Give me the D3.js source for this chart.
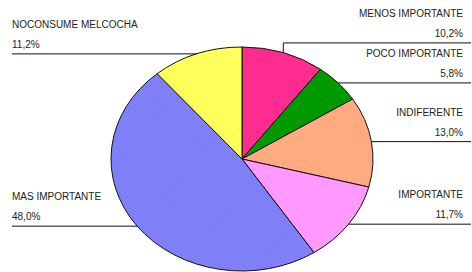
<!DOCTYPE html>
<html>
<head>
<meta charset="utf-8">
<script src="https://cdn.jsdelivr.net/npm/d3@7"></script>
<style>
  body { margin: 0; background: #fff; }
  text { font-family: "Liberation Sans", Arial, sans-serif; font-size: 10px; fill: #222; }
</style>
</head>
<body>
<svg id="chart" width="472" height="272"></svg>
<script>
var categories = ["MENOS IMPORTANTE", "POCO IMPORTANTE", "INDIFERENTE", "IMPORTANTE", "MAS IMPORTANTE", "NOCONSUME MELCOCHA"];
var values = [10.2, 5.8, 13.0, 11.7, 48.0, 11.2];
var valueLabels = ["10,2%", "5,8%", "13,0%", "11,7%", "48,0%", "11,2%"];
var colors = ["#ff2c90", "#009900", "#ffaa80", "#ff99ff", "#8282ff", "#ffff5c"];

var svg = d3.select("#chart");
var cx = 242, cy = 159, rx = 131, ry = 112;
var squash = ry / rx;

// hatched texture for the big blue slice
var defs = svg.append("defs");
var pat = defs.append("pattern")
    .attr("id", "hatch")
    .attr("patternUnits", "userSpaceOnUse")
    .attr("width", 3).attr("height", 3)
    .attr("patternTransform", "rotate(35)");
pat.append("rect").attr("width", 3).attr("height", 3).attr("fill", "#8484ff");
pat.append("rect").attr("width", 3).attr("height", 1).attr("fill", "#7676f2");

var data = categories.map(function(c, i) {
  return {name: c, value: values[i], label: valueLabels[i], color: colors[i]};
});

var pie = d3.pie().sort(null).value(function(d) { return d.value; });
var arcs = pie(data);
var arc = d3.arc().innerRadius(0).outerRadius(rx);

var g = svg.append("g")
    .attr("transform", "translate(" + cx + "," + cy + ") scale(1," + squash + ")");

g.selectAll("path")
  .data(arcs)
  .enter().append("path")
    .attr("d", arc)
    .attr("fill", function(d, i) { return i === 4 ? "url(#hatch)" : d.data.color; })
    .attr("stroke", "#111")
    .attr("stroke-width", 1)
    .attr("vector-effect", "non-scaling-stroke");

// anchor points on the ellipse edge at slice mid-angle
arcs.forEach(function(d) {
  var a = (d.startAngle + d.endAngle) / 2;
  d.ax = cx + Math.sin(a) * rx;
  d.ay = cy - Math.cos(a) * rx * squash;
  d.right = d.ax > cx;
  d.ly = d.ay;
});

// push right side labels apart (upward) when too close
var rightSide = arcs.filter(function(d) { return d.right; })
  .sort(function(a, b) { return b.ay - a.ay; });
for (var i = 1; i < rightSide.length; i++) {
  if (rightSide[i - 1].ly - rightSide[i].ly < 38) {
    rightSide[i].ly = rightSide[i - 1].ly - 40;
  }
}

var left = 12, rightEdge = 471, textRight = 463;

var labels = svg.append("g");
arcs.forEach(function(d) {
  var x2 = d.right ? rightEdge : left;
  var pts = [[d.ax, d.ay]];
  if (Math.abs(d.ly - d.ay) > 0.5) pts.push([d.ax, d.ly]);
  pts.push([x2, d.ly]);
  labels.append("path")
    .attr("d", d3.line()(pts))
    .attr("fill", "none")
    .attr("stroke", "#111")
    .attr("stroke-width", 1);

  var tx = d.right ? textRight : left;
  var anchor = d.right ? "end" : "start";
  labels.append("text")
    .attr("x", tx).attr("y", d.ly - 26)
    .attr("text-anchor", anchor)
    .text(d.data.name);
  labels.append("text")
    .attr("x", tx).attr("y", d.ly - 6)
    .attr("text-anchor", anchor)
    .text(d.data.label);
});
</script>
</body>
</html>
